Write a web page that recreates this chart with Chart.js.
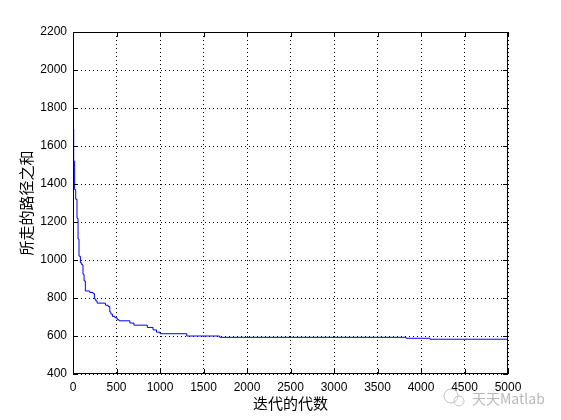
<!DOCTYPE html>
<html><head><meta charset="utf-8">
<script src="https://cdn.jsdelivr.net/npm/chart.js@4/dist/chart.umd.min.js"></script>
<style>html,body{margin:0;padding:0;background:#fff}canvas{display:block}</style>
</head><body>
<canvas id="c" width="561" height="420"></canvas>
<script>
/* ═══ DATA ═══════════════════════════════════════ */
// best-so-far path length, recorded at the generation where it changes
const GEN  = [0,8,19,31,46,58,69,85,100,115,127,142,192,231,246,262,277,373,404,423,435,454,481,508,531,654,700,854,920,960,1000,1308,1685,3828,4103,5000];
const DIST = [1690,1520,1370,1320,1220,1110,1020,985,975,925,890,837,829,823,795,785,773,762,755,727,715,703,696,685,680,668,657,645,632,620,612,600,593,588,583,583];
const X_TICKS = [0,500,1000,1500,2000,2500,3000,3500,4000,4500,5000];
const Y_TICKS = [400,600,800,1000,1200,1400,1600,1800,2000,2200];

const FONT = 'Liberation Sans, Arial, "Noto Sans CJK SC"';
const CJK  = '"Noto Sans CJK SC", "Liberation Sans"';

// box + inward tick marks, matlab style
const boxPlugin = {
  id: 'box',
  afterDraw(chart) {
    const {ctx, chartArea: a, scales: {x, y}} = chart;
    ctx.save();
    ctx.strokeStyle = '#000'; ctx.lineWidth = 1; ctx.setLineDash([]);
    ctx.strokeRect(a.left + .5, a.top + .5, a.right - a.left - 1, a.bottom - a.top - 1);
    ctx.beginPath();
    X_TICKS.forEach(v => {
      const px = Math.round(x.getPixelForValue(v)) + .5;
      ctx.moveTo(px, a.bottom); ctx.lineTo(px, a.bottom - 5);
      ctx.moveTo(px, a.top);    ctx.lineTo(px, a.top + 5);
    });
    Y_TICKS.forEach(v => {
      const py = Math.round(y.getPixelForValue(v)) + .5;
      ctx.moveTo(a.left, py);  ctx.lineTo(a.left + 5, py);
      ctx.moveTo(a.right, py); ctx.lineTo(a.right - 5, py);
    });
    ctx.stroke();
    // watermark
    ctx.fillStyle = '#b8b8b8';
    ctx.font = '14px ' + CJK;
    ctx.textBaseline = 'middle';
    ctx.fillText('天天Matlab', 472, 399);
    ctx.strokeStyle = '#c4c4c4';
    ctx.beginPath(); ctx.arc(451, 396, 7, 0, Math.PI * 2); ctx.stroke();
    ctx.beginPath(); ctx.arc(459, 401, 5, 0, Math.PI * 2); ctx.stroke();
    ctx.restore();
  }
};

const gridOpts = {color: '#000', lineWidth: 1, drawTicks: false};
const plain = v => String(v);

new Chart(document.getElementById('c'), {
  type: 'line',
  data: {datasets: [{
    data: GEN.map((g, i) => ({x: g, y: DIST[i]})),
    borderColor: '#0000ff', borderWidth: 1, pointRadius: 0,
    stepped: 'before', fill: false
  }]},
  options: {
    responsive: false, animation: false, devicePixelRatio: 1,
    layout: {padding: {left: 0, top: 32, right: 53, bottom: 0}},
    plugins: {legend: {display: false}, tooltip: {enabled: false}},
    scales: {
      x: {
        type: 'linear', min: 0, max: 5000,
        afterBuildTicks: s => { s.ticks = X_TICKS.map(v => ({value: v})); },
        afterFit: s => { s.height = 46; },
        grid: gridOpts,
        border: {display: false, dash: [1, 3]},
        ticks: {color: '#000', font: {family: FONT, size: 12}, padding: 6, maxRotation: 0, autoSkip: false, callback: plain},
        title: {display: true, text: '迭代的代数', color: '#000', font: {family: CJK, size: 15}, padding: {top: 0, bottom: 8}}
      },
      y: {
        type: 'linear', min: 400, max: 2200,
        afterBuildTicks: s => { s.ticks = Y_TICKS.map(v => ({value: v})); },
        afterFit: s => { s.width = 73; },
        grid: gridOpts,
        border: {display: false, dash: [1, 3]},
        ticks: {color: '#000', font: {family: FONT, size: 12}, padding: 6, autoSkip: false, callback: plain},
        title: {display: true, text: '所走的路径之和', color: '#000', font: {family: CJK, size: 15}, padding: {top: 17, bottom: 0}}
      }
    }
  },
  plugins: [boxPlugin]
});
</script>
</body></html>
